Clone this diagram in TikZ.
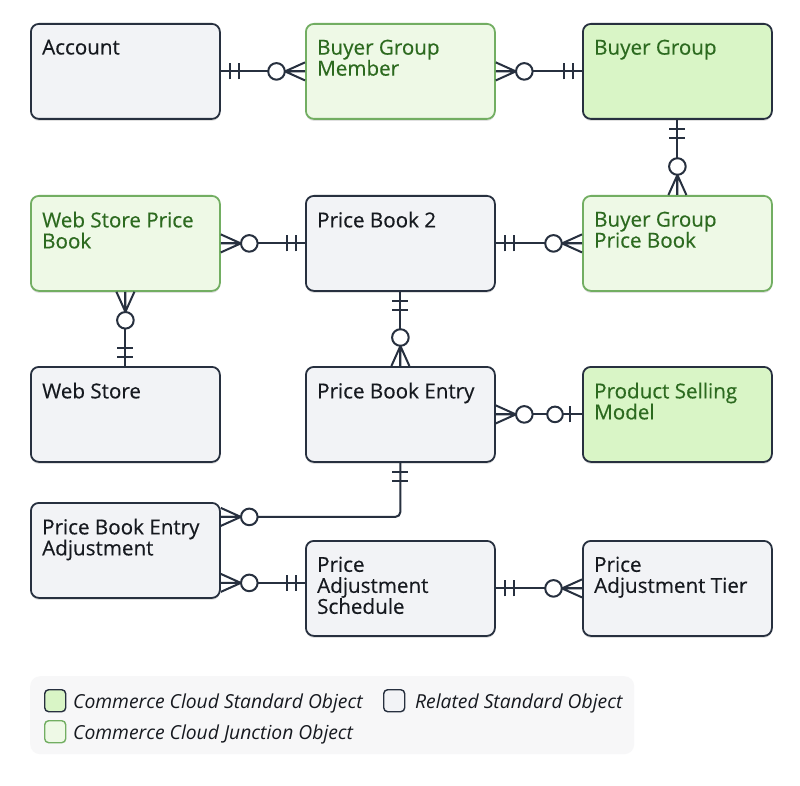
\documentclass[tikz,border=0pt]{standalone}
\usepackage{fontspec}
\setmainfont{Open Sans}
\newfontfamily\ttlfont{Open Sans}[FakeBold=0.4]
\usetikzlibrary{shadows}
\definecolor{edge}{HTML}{27303F}
\definecolor{relfill}{HTML}{F2F3F6}
\definecolor{stdfill}{HTML}{D9F5C6}
\definecolor{jfill}{HTML}{EEF9E6}
\definecolor{jedge}{HTML}{72AE62}
\definecolor{gtext}{HTML}{2C6A1F}
\definecolor{ktext}{HTML}{16191F}
\definecolor{legfill}{HTML}{F7F7F8}
\begin{document}
\begin{tikzpicture}[x=1pt,y=-1pt,
  box/.style={rounded corners=8pt, line width=1.8pt, minimum width=189pt, minimum height=95pt, anchor=north west, inner sep=0pt,
    drop shadow={shadow xshift=0pt, shadow yshift=-2pt, opacity=0.12, fill=black}},
  relbox/.style={box, draw=edge, fill=relfill},
  stdbox/.style={box, draw=edge, fill=stdfill},
  jbox/.style={box, draw=jedge, fill=jfill},
  ttl/.style={anchor=north west, inner sep=0pt, align=left, xshift=12pt, yshift=-16.5pt, text=ktext, font=\ttlfont\fontsize{20.6}{21}\selectfont},
  gttl/.style={ttl, text=gtext},
  erline/.style={draw=edge, line width=2pt},
  dirR/.style={x={(1pt,0)}, y={(0,1pt)}},
  dirL/.style={x={(-1pt,0)}, y={(0,1pt)}},
  dirD/.style={x={(0,-1pt)}, y={(1pt,0)}},
  dirU/.style={x={(0,1pt)}, y={(1pt,0)}},
  leg/.style={anchor=base west, inner sep=0pt, text=ktext, font=\fontsize{19.3}{20}\selectfont\itshape},
  swatch/.style={line width=1.4pt, rounded corners=4pt, minimum width=21pt, minimum height=22pt, inner sep=0pt, anchor=north west}
]
\newcommand\zmany[2]{\begin{scope}[shift={(#1)},#2]
  \draw[erline] (0,9)--(20,0)--(0,-9) (0,0)--(20,0);
  \draw[erline, fill=white] (28.5,0) circle[radius=8.3];
\end{scope}}
\newcommand\onlyone[2]{\begin{scope}[shift={(#1)},#2]
  \draw[erline] (9,-8)--(9,8) (18,-8)--(18,8);
\end{scope}}
\newcommand\zone[2]{\begin{scope}[shift={(#1)},#2]
  \draw[erline] (12,-8)--(12,8);
  \draw[erline, fill=white] (27,0) circle[radius=7.8];
\end{scope}}

\useasboundingbox (0,0) rectangle (800,786);
\fill[white] (0,0) rectangle (800,786);

% boxes
\node[relbox, label={[ttl]north west:Account}] (acc) at (30,23) {};
\node[jbox, label={[gttl]north west:Buyer Group\\Member}] (bgm) at (305,23) {};
\node[stdbox, label={[gttl]north west:Buyer Group}] (bg) at (582,23) {};
\node[jbox, label={[gttl]north west:Web Store Price\\Book}] (wspb) at (30,195) {};
\node[relbox, label={[ttl]north west:Price Book 2}] (pb) at (305,195) {};
\node[jbox, label={[gttl]north west:Buyer Group\\Price Book}] (bgpb) at (582,195) {};
\node[relbox, label={[ttl]north west:Web Store}] (ws) at (30,366) {};
\node[relbox, label={[ttl]north west:Price Book Entry}] (pbe) at (305,366) {};
\node[stdbox, label={[gttl]north west:Product Selling\\Model}] (psm) at (582,366) {};
\node[relbox, label={[ttl]north west:Price Book Entry\\Adjustment}] (pbea) at (30,502) {};
\node[relbox, label={[ttl]north west:Price\\Adjustment\\Schedule}] (pas) at (305,540) {};
\node[relbox, label={[ttl]north west:Price\\Adjustment Tier}] (pat) at (582,540) {};

% connectors
\draw[erline] (acc) -- (bgm);
\onlyone{acc.east}{dirR}
\zmany{bgm.west}{dirL}

\draw[erline] (bgm) -- (bg);
\zmany{bgm.east}{dirR}
\onlyone{bg.west}{dirL}

\draw[erline] (bg) -- (bgpb);
\onlyone{bg.south}{dirD}
\zmany{bgpb.north}{dirU}

\draw[erline] (wspb) -- (pb);
\zmany{wspb.east}{dirR}
\onlyone{pb.west}{dirL}

\draw[erline] (pb) -- (bgpb);
\onlyone{pb.east}{dirR}
\zmany{bgpb.west}{dirL}

\draw[erline] (wspb) -- (ws);
\zmany{wspb.south}{dirD}
\onlyone{ws.north}{dirU}

\draw[erline] (pb) -- (pbe);
\onlyone{pb.south}{dirD}
\zmany{pbe.north}{dirU}

\draw[erline] (pbe) -- (psm);
\zmany{pbe.east}{dirR}
\zone{psm.west}{dirL}

\draw[erline, rounded corners=5pt] (pbe.south) |- ([yshift=33.5pt]pbea.east);
\onlyone{pbe.south}{dirD}
\zmany{[yshift=33.5pt]pbea.east}{dirR}

\draw[erline] ([yshift=5.5pt]pas.west -| pbea.east) -- ([yshift=5.5pt]pas.west);
\zmany{[yshift=5.5pt]pas.west -| pbea.east}{dirR}
\onlyone{[yshift=5.5pt]pas.west}{dirL}

\draw[erline] (pas) -- (pat);
\onlyone{pas.east}{dirR}
\zmany{pat.west}{dirL}

% legend
\node[fill=legfill, rounded corners=10pt, minimum width=604pt, minimum height=78pt, anchor=north west, inner sep=0pt] (legbg) at (30,676) {};
\node[swatch, draw=edge, fill=stdfill] (sw1) at (44,689) {};
\node[swatch, draw=jedge, fill=jfill] (sw2) at (44,720) {};
\node[swatch, draw=edge, fill=relfill] (sw3) at (383,689) {};
\node[leg] (l1) at (73,708) {Commerce Cloud Standard Object};
\node[leg] (l2) at (73,739) {Commerce Cloud Junction Object};
\node[leg] (l3) at (415,708) {Related Standard Object};
\end{tikzpicture}
\end{document}
